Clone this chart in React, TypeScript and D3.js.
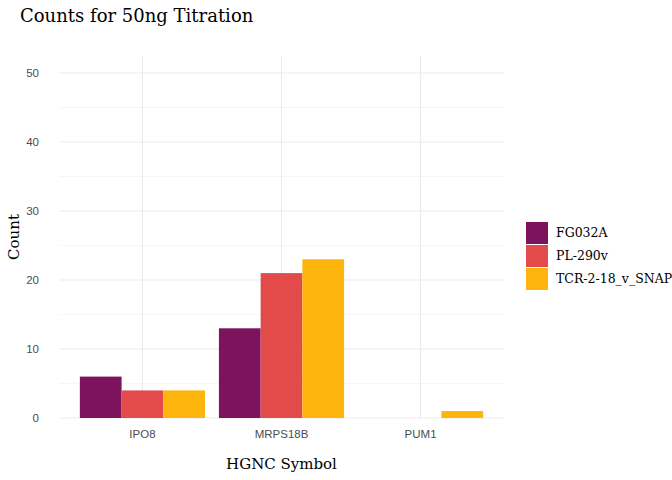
import React from "react";
import * as d3 from "d3";

const genes = ["IPO8", "MRPS18B", "PUM1"];
const samples = ["FG032A", "PL-290v", "TCR-2-18_v_SNAP"];
const colors = ["#7d135c", "#e34b4b", "#fdb50e"];
const values = [
  [6, 4, 4],
  [13, 21, 23],
  [0, 0, 1],
];
const yTicks = [0, 10, 20, 30, 40, 50];
const yMinor = [5, 15, 25, 35, 45];

export default function App() {
  const W = 672, H = 480;
  const L = 59, R = 504, T = 56, B = 418;
  const x = d3.scaleLinear().domain([0.4, 3.6]).range([L - 0, R]);
  // center mapping: gene i at x(i+1)
  const y = d3.scaleLinear().domain([0, 50]).range([B, 73]);
  const bw = 0.9 / 3;
  const serif = "'Palatino Linotype', 'URW Palladio L', 'DejaVu Serif', serif";
  const sans = "'Liberation Sans', Arial, sans-serif";
  return (
    <svg width={W} height={H} style={{ position: "absolute", left: 0, top: 0 }}>
      <rect width={W} height={H} fill="white" />
      {yMinor.map((v) => (
        <line key={"m" + v} x1={L} x2={R} y1={y(v)} y2={y(v)} stroke="#f0f0f0" strokeWidth={0.6} />
      ))}
      {yTicks.map((v) => (
        <line key={"g" + v} x1={L} x2={R} y1={y(v)} y2={y(v)} stroke="#ebebeb" strokeWidth={1.1} />
      ))}
      {genes.map((g, i) => (
        <line key={"v" + g} x1={x(i + 1)} x2={x(i + 1)} y1={T} y2={B} stroke="#ebebeb" strokeWidth={1.1} />
      ))}
      {genes.map((g, i) =>
        samples.map((s, j) => {
          const x0 = x(i + 1 - 0.45 + j * bw);
          const x1 = x(i + 1 - 0.45 + (j + 1) * bw);
          const v = values[i][j];
          return v > 0 ? (
            <rect key={g + s} x={x0} width={x1 - x0} y={y(v)} height={y(0) - y(v)} fill={colors[j]} />
          ) : null;
        })
      )}
      {yTicks.map((v) => (
        <text key={"t" + v} x={L - 20} y={y(v)} dy="0.35em" textAnchor="end" fontFamily={sans} fontSize={11.5} fill="#4d4d4d">{v}</text>
      ))}
      {genes.map((g, i) => (
        <text key={"x" + g} x={x(i + 1)} y={B + 20} textAnchor="middle" fontFamily={sans} fontSize={11.5} fill="#4d4d4d">{g}</text>
      ))}
      <text x={(L + R) / 2} y={469} textAnchor="middle" fontFamily={serif} fontSize={15}>HGNC Symbol</text>
      <text transform={`translate(19,${(T + B) / 2}) rotate(-90)`} textAnchor="middle" fontFamily={serif} fontSize={15}>Count</text>
      <text x={20} y={22} fontFamily={serif} fontSize={18}>Counts for 50ng Titration</text>
      {samples.map((s, j) => (
        <g key={"l" + s} transform={`translate(526,${222 + j * 23})`}>
          <rect width={22} height={22} fill={colors[j]} />
          <text x={30} y={11} dy="0.35em" fontFamily={serif} fontSize={12.5}>{s}</text>
        </g>
      ))}
    </svg>
  );
}
